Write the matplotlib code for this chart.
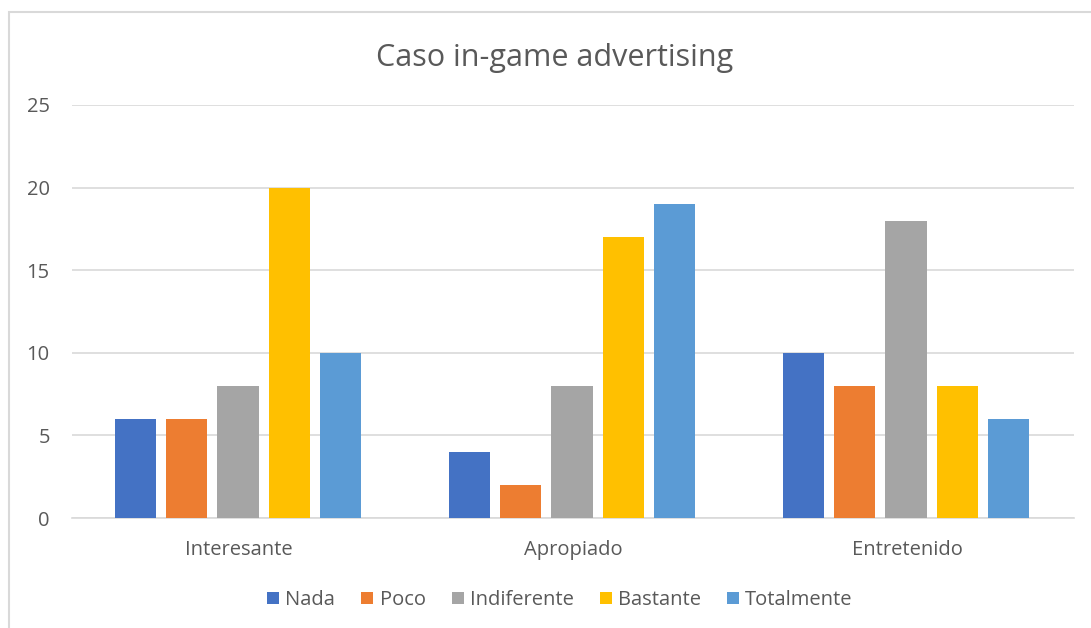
import matplotlib
matplotlib.use("Agg")
import matplotlib.pyplot as plt
import numpy as np
from matplotlib.patches import Rectangle

categories = ["Interesante", "Apropiado", "Entretenido"]
series = ["Nada", "Poco", "Indiferente", "Bastante", "Totalmente"]
nada = [6, 4, 10]
poco = [6, 2, 8]
indiferente = [8, 8, 18]
bastante = [20, 17, 8]
totalmente = [10, 19, 6]
colors = ["#4472C4", "#ED7D31", "#A5A5A5", "#FFC000", "#5B9BD5"]

values = [nada, poco, indiferente, bastante, totalmente]
text_color = "#595959"
plt.rcParams['font.family'] = ['Open Sans', 'DejaVu Sans']

fig = plt.figure(figsize=(10.91, 6.28), dpi=100)
fig.patch.set_facecolor("white")

# chart frame (clipped by the right/bottom figure edge)
fig.patches.append(Rectangle((9 / 1091, -0.1), 1.2, 1 - 12 / 628 + 0.1,
                             transform=fig.transFigure, fill=False,
                             edgecolor="#D9D9D9", linewidth=1.5))

ax = fig.add_axes([72 / 1091, 1 - 518 / 628, (1074 - 72) / 1091, (518 - 105) / 628])

x = np.arange(len(categories))
step = 0.1536
width = 0.123
for i, (name, vals) in enumerate(zip(series, values)):
    ax.bar(x + (i - 2) * step - 0.003, vals, width, color=colors[i], label=name, zorder=3)

ax.set_xlim(-0.5, 2.5)
ax.set_ylim(0, 25)
ax.set_yticks(range(0, 26, 5))
ax.set_xticks(x)
ax.set_xticklabels(categories)
ax.yaxis.grid(True, color="#D9D9D9", linewidth=1.2, zorder=0)
for side in ["top", "right", "left"]:
    ax.spines[side].set_visible(False)
ax.spines["bottom"].set_color("#D9D9D9")
ax.spines["bottom"].set_linewidth(1.2)
ax.tick_params(axis="both", length=0, colors=text_color, labelsize=14.5)
ax.tick_params(axis="y", pad=16)
ax.tick_params(axis="x", pad=16)

fig.text(555 / 1091, 1 - 58 / 628, "Caso in-game advertising", ha="center", va="center",
         fontsize=22, color=text_color)

fig.legend(loc="center", bbox_to_anchor=(560 / 1091, 1 - 600 / 628), ncol=5, frameon=False,
           handlelength=0.6, handleheight=0.6, handletextpad=0.3, columnspacing=1.3,
           fontsize=14.5, labelcolor=text_color)

fig.savefig("out.png", dpi=100)
